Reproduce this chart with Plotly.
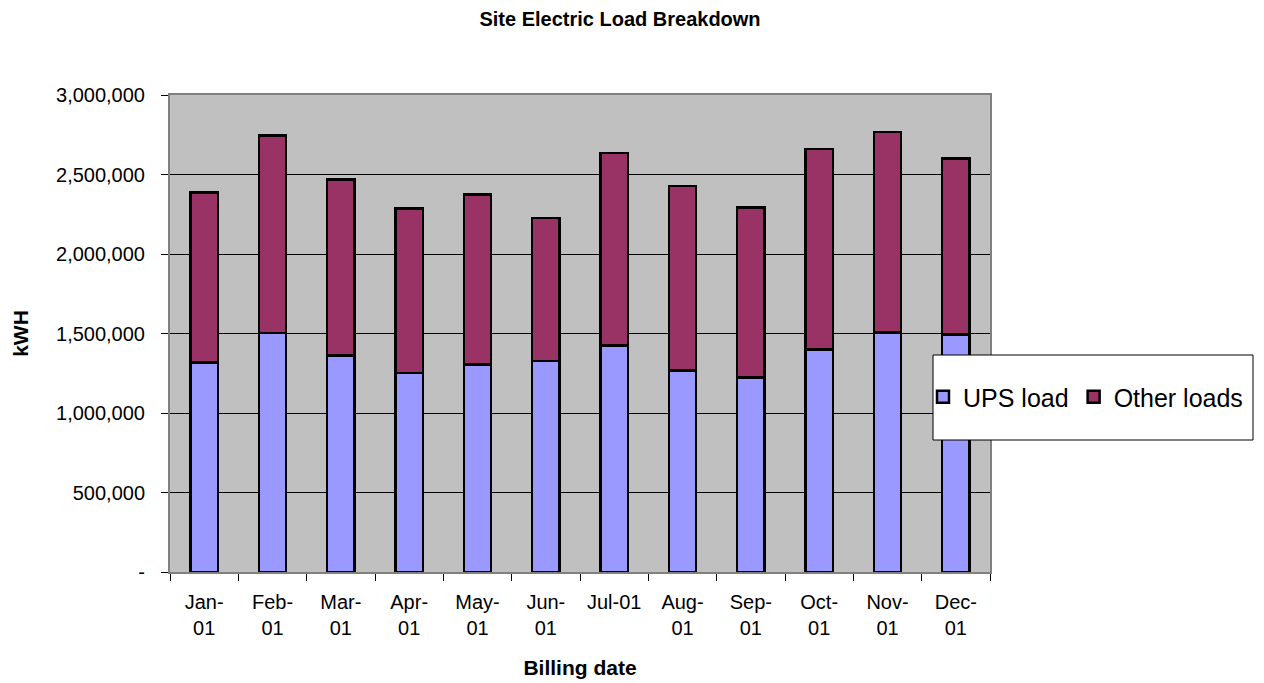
import plotly.graph_objects as go

months = ["Jan-<br>01", "Feb-<br>01", "Mar-<br>01", "Apr-<br>01", "May-<br>01", "Jun-<br>01",
          "Jul-01<br> ", "Aug-<br>01", "Sep-<br>01", "Oct-<br>01", "Nov-<br>01", "Dec-<br>01"]
ups_load = [1319000, 1504000, 1363000, 1252000, 1305000, 1328000,
            1426000, 1266000, 1223000, 1399000, 1506000, 1494000]
total_load = [2387000, 2745000, 2470000, 2286000, 2374000, 2227000,
              2636000, 2428000, 2292000, 2659000, 2768000, 2600000]
other_loads = [t - u for t, u in zip(total_load, ups_load)]

y_tickvals = [0, 500000, 1000000, 1500000, 2000000, 2500000, 3000000]
y_ticktext = ["-", "500,000", "1,000,000", "1,500,000", "2,000,000", "2,500,000", "3,000,000"]

FONT = "Liberation Sans, Arial, sans-serif"

fig = go.Figure()
fig.add_trace(go.Bar(x=months, y=ups_load, name="UPS load",
                     marker=dict(color="#9999FF", line=dict(color="black", width=2.5))))
fig.add_trace(go.Bar(x=months, y=other_loads, name="Other loads",
                     marker=dict(color="#993366", line=dict(color="black", width=2.5))))

# page body has an 8px margin, so the figure is laid out in page coords minus 8
W, H = 1256, 675
L, R, T, B = 162, 982, 87, 564   # plot area in figure coords

fig.update_layout(
    width=W, height=H,
    barmode="stack", bargap=0.6,
    paper_bgcolor="white", plot_bgcolor="#C0C0C0",
    margin=dict(l=L, r=W - R, t=T, b=H - B, autoexpand=False),
    font=dict(family=FONT, color="black", size=20),
    title=dict(text="<b>Site Electric Load Breakdown</b>", x=(620 - 8) / W, xref="container",
               xanchor="center", y=1 - 11 / H, yanchor="middle", font=dict(size=20)),
    showlegend=True,
    legend=dict(orientation="h", x=(923 - 170) / 820, xanchor="left",
                y=(572 - 397) / 477, yanchor="middle", traceorder="normal",
                bgcolor="rgba(0,0,0,0)", borderwidth=0, font=dict(size=25),
                itemwidth=30, tracegroupgap=0),
    xaxis=dict(type="category", tickson="boundaries", ticks="outside", ticklen=7,
               tickcolor="black", showline=True, linecolor="#808080", linewidth=2,
               mirror=True, showgrid=False, tickangle=0, ticklabelstandoff=11,
               automargin=False,
               title=dict(text="<b>Billing date</b>", font=dict(size=21), standoff=22)),
    yaxis=dict(range=[0, 3000000], tickvals=y_tickvals, ticktext=y_ticktext,
               ticks="outside", ticklen=7, tickcolor="black",
               showline=True, linecolor="#808080", linewidth=2, mirror=True,
               showgrid=True, gridcolor="black", gridwidth=1, zeroline=False,
               ticklabelstandoff=12, automargin=False,
               title=dict(text="<b>kWH</b>", font=dict(size=21), standoff=22)),
    shapes=[dict(type="rect", xref="paper", yref="paper",
                 x0=(933 - 170) / 820, x1=(1253 - 170) / 820,
                 y0=(572 - 440) / 477, y1=(572 - 355) / 477,
                 fillcolor="white", line=dict(color="black", width=1), layer="above")],
)

fig.write_html("out.html")
